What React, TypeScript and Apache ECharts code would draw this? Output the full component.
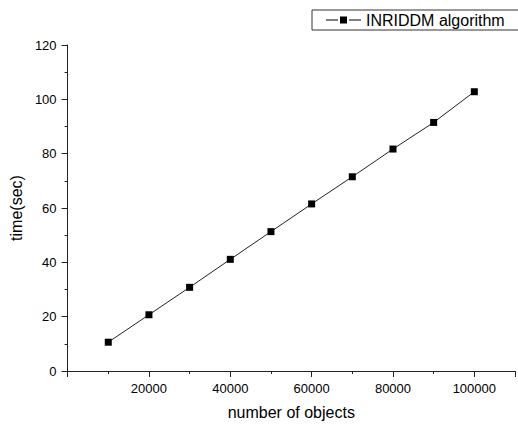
import React, { useEffect, useRef } from "react";
import * as echarts from "echarts";

const objectCounts = [10000, 20000, 30000, 40000, 50000, 60000, 70000, 80000, 90000, 100000];
const timeSec = [10.6, 20.7, 30.8, 41.1, 51.3, 61.5, 71.5, 81.7, 91.5, 102.8];
const seriesName = "INRIDDM algorithm";
const xTitle = "number of objects";
const yTitle = "time(sec)";

export default function App() {
  const ref = useRef<HTMLDivElement>(null);
  useEffect(() => {
    if (!ref.current) return;
    const chart = echarts.init(ref.current, undefined, { renderer: "svg" });
    const font = "'Liberation Sans', Arial, sans-serif";
    const axisColor = "#222";
    chart.setOption({
      animation: false,
      backgroundColor: "#fff",
      textStyle: { fontFamily: font },
      grid: { left: 65, right: 3, top: 45, bottom: 51, containLabel: false },
      legend: {
        show: true,
        left: 312,
        top: 10,
        orient: "horizontal",
        data: [
          {
            name: seriesName,
            icon: "path://M0 3H12V4H0Z M14 0H21V7H14Z M23 3H35V4H23Z",
          },
        ],
        borderColor: "#333",
        borderWidth: 1,
        padding: [2, 30, 2, 14],
        itemWidth: 35,
        itemHeight: 7,
        textStyle: { fontSize: 16, color: "#000", fontFamily: font },
      },
      xAxis: {
        type: "value",
        min: 0,
        max: 110000,
        interval: 20000,
        name: xTitle,
        nameLocation: "middle",
        nameGap: 33,
        nameTextStyle: { fontSize: 16, color: "#000", fontFamily: font },
        axisLine: { show: true, onZero: false, lineStyle: { color: axisColor, width: 1 } },
        axisTick: { show: true, length: 6, lineStyle: { color: axisColor } },
        minorTick: { show: true, splitNumber: 2, length: 3, lineStyle: { color: axisColor } },
        splitLine: { show: false },
        axisLabel: {
          fontSize: 13,
          color: "#000",
          margin: 11,
          fontFamily: font,
          formatter: (v: number) => (v === 0 ? "" : String(v)),
        },
      },
      yAxis: {
        type: "value",
        min: 0,
        max: 120,
        interval: 20,
        name: yTitle,
        nameLocation: "middle",
        nameGap: 39,
        nameTextStyle: { fontSize: 16, color: "#000", fontFamily: font },
        axisLine: { show: true, lineStyle: { color: axisColor, width: 1 } },
        axisTick: { show: true, length: 6, lineStyle: { color: axisColor } },
        minorTick: { show: true, splitNumber: 2, length: 3, lineStyle: { color: axisColor } },
        splitLine: { show: false },
        axisLabel: { fontSize: 13, color: "#000", margin: 11, fontFamily: font },
      },
      series: [
        {
          name: seriesName,
          type: "line",
          data: objectCounts.map((x, i) => [x, timeSec[i]]),
          symbol: "rect",
          symbolSize: 7,
          showAllSymbol: true,
          itemStyle: { color: "#000" },
          lineStyle: { color: "#222", width: 1 },
        },
      ],
    });
    return () => chart.dispose();
  }, []);
  return (
    <div
      ref={ref}
      style={{ position: "absolute", left: 0, top: 0, width: 518, height: 425 }}
    />
  );
}
